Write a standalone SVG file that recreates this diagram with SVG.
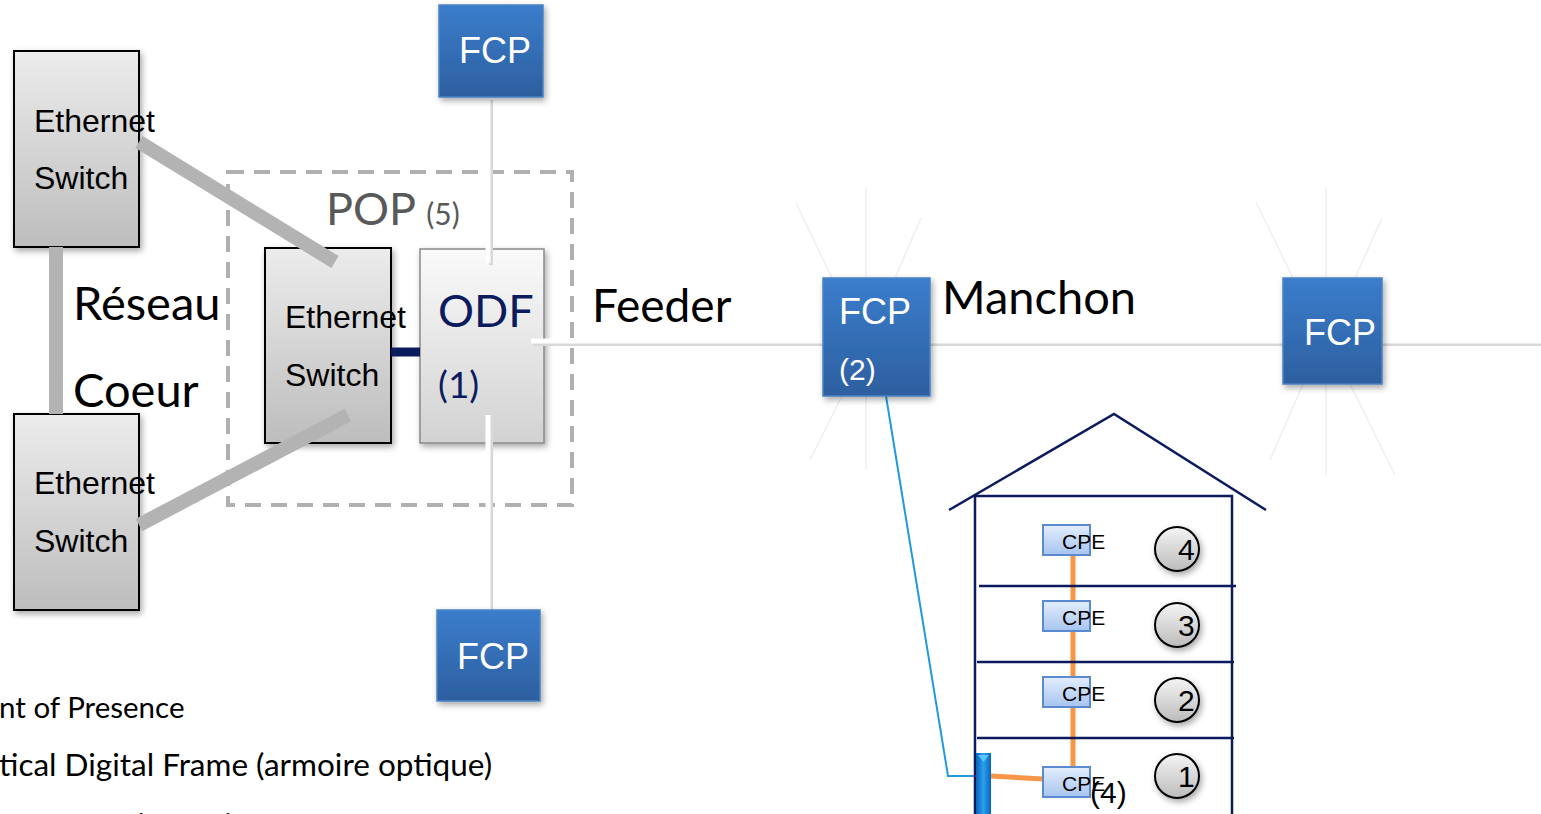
<svg xmlns="http://www.w3.org/2000/svg" width="1541" height="814" viewBox="0 0 1541 814">
<defs>
<linearGradient id="gSw" x1="0" y1="0" x2="0" y2="1"><stop offset="0" stop-color="#ececec"/><stop offset="1" stop-color="#bdbdbd"/></linearGradient>
<linearGradient id="gOdf" x1="0" y1="0" x2="0" y2="1"><stop offset="0" stop-color="#fafafa"/><stop offset="1" stop-color="#d2d2d2"/></linearGradient>
<linearGradient id="gFcp" x1="0" y1="0" x2="0" y2="1"><stop offset="0" stop-color="#3b7dcc"/><stop offset="1" stop-color="#2d5f9f"/></linearGradient>
<linearGradient id="gCpe" x1="0" y1="0" x2="0" y2="1"><stop offset="0" stop-color="#e3eefc"/><stop offset="1" stop-color="#a7c4ef"/></linearGradient>
<linearGradient id="gCir" x1="0" y1="0" x2="0" y2="1"><stop offset="0" stop-color="#f4f4f4"/><stop offset="1" stop-color="#bcbcbc"/></linearGradient>
<linearGradient id="gBar" x1="0" y1="0" x2="1" y2="0"><stop offset="0" stop-color="#0a64b8"/><stop offset="0.5" stop-color="#2aa0ee"/><stop offset="1" stop-color="#0a64b8"/></linearGradient>
<filter id="sh" x="-20%" y="-20%" width="150%" height="150%"><feDropShadow dx="2" dy="3" stdDeviation="3" flood-color="#000" flood-opacity="0.35"/></filter>
</defs>
<style>
.sw{fill:url(#gSw);stroke:#000;stroke-width:2}
.fcp{fill:url(#gFcp);stroke:#4a82c4;stroke-width:1.5}
.arial{font-family:"Liberation Sans",Arial,sans-serif}
.cal{font-family:Lato,"Open Sans",sans-serif}
.wt{fill:#fff}
.gl{stroke:#b3b3b3;stroke-width:14;fill:none}
.faint{stroke:#efefef;stroke-width:1.5;fill:none}
.navy{stroke:#0c1a5e;stroke-width:2.5;fill:none}
.cpe{fill:url(#gCpe);stroke:#5b8ad1;stroke-width:2}
.cir{fill:url(#gCir);stroke:#000;stroke-width:2}
.wl{stroke:#ffffff;stroke-width:5;fill:none}
.ws{stroke:#d8d8d8;stroke-width:4;fill:none}
</style>

<g id="pop">
<rect x="228" y="172" width="344" height="333" fill="none" stroke="#b0b0b0" stroke-width="4" stroke-dasharray="16,10"/>
<text x="326" y="225" class="cal" font-size="45" fill="#595959">POP <tspan font-size="30">(5)</tspan></text>
</g>

<g id="switch-core-1">
<rect class="sw" x="14" y="51" width="125" height="196" filter="url(#sh)"/>
<text class="arial" font-size="32" x="34" y="132">Ethernet</text>
<text class="arial" font-size="32" x="34" y="189">Switch</text>
</g>
<g id="switch-core-2">
<rect class="sw" x="14" y="414" width="125" height="196" filter="url(#sh)"/>
<text class="arial" font-size="32" x="34" y="494">Ethernet</text>
<text class="arial" font-size="32" x="34" y="552">Switch</text>
</g>
<g id="reseau-label">
<text class="cal" font-size="47" x="73" y="320">Réseau</text>
<text class="cal" font-size="47" x="73" y="407">Coeur</text>
</g>

<g id="switch-pop">
<rect class="sw" x="265" y="248" width="126" height="195" filter="url(#sh)"/>
<text class="arial" font-size="32" x="285" y="328">Ethernet</text>
<text class="arial" font-size="32" x="285" y="386">Switch</text>
</g>

<g id="odf">
<rect x="420" y="249" width="124" height="194" fill="url(#gOdf)" stroke="#8a8a8a" stroke-width="1.5" filter="url(#sh)"/>
<text class="cal" font-size="45" x="438" y="327" fill="#0c1a5e">ODF</text>
<text class="cal" font-size="37" x="438" y="398" fill="#0c1a5e">(1)</text>
</g>

<g id="connectors">
<line class="gl" x1="56" y1="247" x2="56" y2="414"/>
<line class="gl" x1="139" y1="142" x2="335" y2="262"/>
<line class="gl" x1="139" y1="525" x2="348" y2="415"/>
<line x1="391" y1="352" x2="420" y2="352" stroke="#0c1a5e" stroke-width="9"/>
<g class="faint">
<line x1="866" y1="187" x2="866" y2="470"/>
<line x1="796" y1="203" x2="832" y2="278"/>
<line x1="921" y1="218" x2="895" y2="278"/>
<line x1="810" y1="460" x2="842" y2="396"/>
<line x1="1326" y1="187" x2="1326" y2="475"/>
<line x1="1256" y1="202" x2="1293" y2="278"/>
<line x1="1382" y1="218" x2="1355" y2="278"/>
<line x1="1270" y1="460" x2="1303" y2="384"/>
<line x1="1395" y1="475" x2="1350" y2="384"/>
</g>
<line class="ws" x1="533" y1="344" x2="1541" y2="344"/>
<line class="wl" x1="531" y1="341" x2="1541" y2="341"/>
<line class="ws" x1="491" y1="100" x2="491" y2="265"/>
<line class="wl" x1="488" y1="97" x2="488" y2="263"/>
<line class="ws" x1="491" y1="418" x2="491" y2="612"/>
<line class="wl" x1="488" y1="415" x2="488" y2="610"/>
<polyline points="886,396 948,776 978,776" fill="none" stroke="#1f9ae0" stroke-width="2"/>
<line x1="1073" y1="556" x2="1073" y2="770" stroke="#f79646" stroke-width="5"/>
<line x1="991" y1="776" x2="1043" y2="779" stroke="#f79646" stroke-width="5"/>
</g>

<g id="fcp-top">
<rect class="fcp" x="439" y="5" width="104" height="92" filter="url(#sh)"/>
<text class="arial wt" font-size="36" x="459" y="63">FCP</text>
</g>
<g id="fcp-bottom">
<rect class="fcp" x="437" y="610" width="103" height="91" filter="url(#sh)"/>
<text class="arial wt" font-size="36" x="457" y="669">FCP</text>
</g>

<g id="feeder-label"><text class="cal" font-size="46" x="592" y="322">Feeder</text></g>

<g id="fcp-2">
<rect class="fcp" x="823" y="278" width="107" height="118" filter="url(#sh)"/>
<text class="arial wt" font-size="36" x="839" y="324">FCP</text>
<text class="arial wt" font-size="30" x="839" y="380">(2)</text>
</g>
<g id="manchon-label"><text class="cal" font-size="47" x="942" y="314">Manchon</text></g>
<g id="fcp-right">
<rect class="fcp" x="1283" y="278" width="99" height="106" filter="url(#sh)"/>
<text class="arial wt" font-size="36" x="1304" y="345">FCP</text>
</g>

<g id="house">
<polyline class="navy" points="949,510 1114,414 1266,510"/>
<rect class="navy" x="975" y="496" width="257" height="330"/>
<line class="navy" x1="979" y1="586" x2="1236" y2="586"/>
<line class="navy" x1="977" y1="662" x2="1234" y2="662"/>
<line class="navy" x1="977" y1="738" x2="1234" y2="738"/>
</g>
<g id="riser">
<rect x="976" y="753" width="15" height="65" fill="url(#gBar)"/>
<polygon points="978,755 989,755 983.5,762" fill="#5cc4ff"/>
</g>
<g id="cpe-4"><rect class="cpe" x="1043" y="525" width="47" height="30"/><text class="arial" font-size="21" x="1062" y="549">CPE</text></g>
<g id="cpe-3"><rect class="cpe" x="1043" y="601" width="47" height="30"/><text class="arial" font-size="21" x="1062" y="625">CPE</text></g>
<g id="cpe-2"><rect class="cpe" x="1043" y="677" width="47" height="30"/><text class="arial" font-size="21" x="1062" y="701">CPE</text></g>
<g id="cpe-1"><rect class="cpe" x="1043" y="767" width="47" height="30"/><text class="arial" font-size="21" x="1062" y="791">CPE</text></g>
<text class="arial" font-size="30" x="1090" y="803">(4)</text>

<g id="floor-4"><circle class="cir" cx="1177" cy="549" r="22" filter="url(#sh)"/><text class="arial" font-size="30" x="1178" y="560">4</text></g>
<g id="floor-3"><circle class="cir" cx="1177" cy="625" r="22" filter="url(#sh)"/><text class="arial" font-size="30" x="1178" y="636">3</text></g>
<g id="floor-2"><circle class="cir" cx="1177" cy="700" r="22" filter="url(#sh)"/><text class="arial" font-size="30" x="1178" y="711">2</text></g>
<g id="floor-1"><circle class="cir" cx="1177" cy="776" r="22" filter="url(#sh)"/><text class="arial" font-size="30" x="1178" y="787">1</text></g>

<g id="legend" class="cal" font-size="31.5">
<text x="-1" y="718" font-size="29.5">nt of Presence</text>
<text x="-1" y="776">tical Digital Frame (armoire optique)</text>
<text x="20" y="836">Connection Point</text>
</g>
</svg>
